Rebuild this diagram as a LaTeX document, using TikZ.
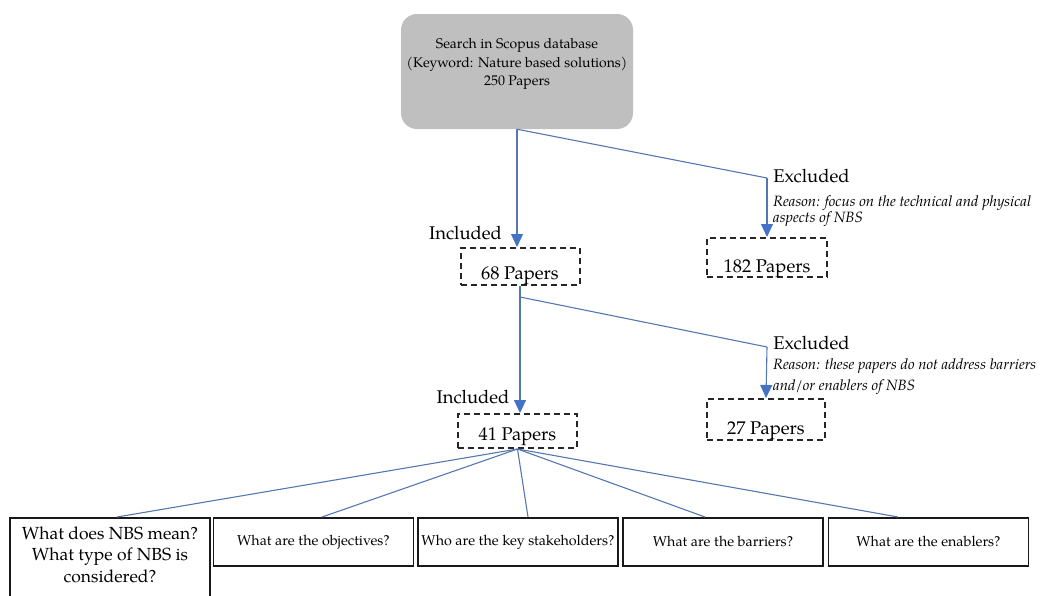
\documentclass[tikz,border=0pt]{standalone}
\usepackage{fontspec}
\setmainfont{TeX Gyre Pagella}
\usetikzlibrary{arrows.meta}
\definecolor{lineblue}{RGB}{84,119,178}
\definecolor{tipblue}{RGB}{68,114,196}
\definecolor{boxgray}{RGB}{191,191,191}
\begin{document}
\begin{tikzpicture}[x=1pt,y=-1pt,
  conn/.style={draw=lineblue,line width=1.1pt},
  arr/.style={conn,-{Triangle[width=12pt,length=13pt,color=tipblue]}},
  topbox/.style={fill=boxgray,rounded corners=16pt,minimum width=232pt,minimum height=115pt,inner sep=0pt},
  toptext/.style={align=center,inner sep=0pt,font=\fontsize{14}{18.5}\selectfont},
  lab/.style={inner sep=0pt,font=\fontsize{18.4}{22}\selectfont},
  why/.style={inner sep=0pt,anchor=west,font=\fontsize{14.9}{17}\selectfont\itshape},
  dbox/.style={draw=black!85,dash pattern=on 6pt off 4pt,line width=2pt,minimum width=119pt,inner xsep=0pt,inner ysep=0pt,anchor=north,font=\fontsize{18.4}{22}\selectfont},
  qbox/.style={draw=black!90,line width=1.7pt,minimum width=200pt,minimum height=48pt,inner sep=0pt,anchor=north},
  qtext/.style={font=\fontsize{14.3}{17}\selectfont},
  qbig/.style={align=center,inner sep=0pt,font=\fontsize{17.5}{21.5}\selectfont}
]
\useasboundingbox (0,0) rectangle (1042,595);
\clip (0,0) rectangle (1042,595);

% top box
\node[topbox] (top) at (517,71.5) {};
\node[toptext] (toptxt) at (517,64) {Search in Scopus database\\(Keyword: Nature based solutions)\\250 Papers};

% dashed boxes
\node[dbox,text height=31pt,text depth=6pt] (b68) at (520,247) {68 Papers};
\node[dbox,text height=34pt,text depth=5pt,minimum width=120pt] (b182) at (767,237) {182 Papers};
\node[dbox,text height=26pt,text depth=8pt] (b41) at (517.5,413) {41 Papers};
\node[dbox,text height=35pt,text depth=6pt,minimum width=118pt] (b27) at (766,398) {27 Papers};

% labels
\node[lab] (inc1) at (465.5,233) {Included};
\node[lab] (exc1) at (811.5,176) {Excluded};
\node[why] (why1) at (773,203) {Reason: focus on the technical and physical};
\node[why] (why1b) at (773,219.5) {aspects of NBS};
\node[lab] (inc2) at (473,397) {Included};
\node[lab] (exc2) at (811.5,343) {Excluded};
\node[why] (why2) at (773,366) {Reason: these papers do not address barriers};
\node[why] (why2b) at (773,387) {and/or enablers of NBS};

% question boxes
\node[qbox,minimum height=100pt] (q1) at (110,517) {};
\node[qbig] (q1t) at (110,554.5) {What does NBS mean?\\What type of NBS is\\considered?};
\node[qbox,qtext] (q2) at (313.5,517) {What are the objectives?};
\node[qbox,qtext] (q3) at (518,517) {Who are the key stakeholders?};
\node[qbox,qtext] (q4) at (723,517) {What are the barriers?};
\node[qbox,qtext] (q5) at (928.5,517) {What are the enablers?};

% connectors
\coordinate (j1) at (767,178);
\draw[arr] (top.south) -- (top.south |- b68.north);
\draw[conn] (top.south) -- (j1);
\draw[arr] (j1) -- (b182.north);

\coordinate (j2) at (767,347);
\draw[arr] (b68.south) -- (b68.south |- b41.north);
\draw[conn] ([yshift=-11pt]b68.south) -- (j2);
\draw[arr] (j2) -- (b27.north);

\draw[conn] (b41.south) -- ([xshift=7pt]q1.north);
\draw[conn] (b41.south) -- ([xshift=8.5pt]q2.north);
\draw[conn] (b41.south) -- ([xshift=10pt]q3.north);
\draw[conn] (b41.south) -- ([xshift=-18pt]q4.north);
\draw[conn] (b41.south) -- ([xshift=-30.5pt]q5.north);
\end{tikzpicture}
\end{document}
